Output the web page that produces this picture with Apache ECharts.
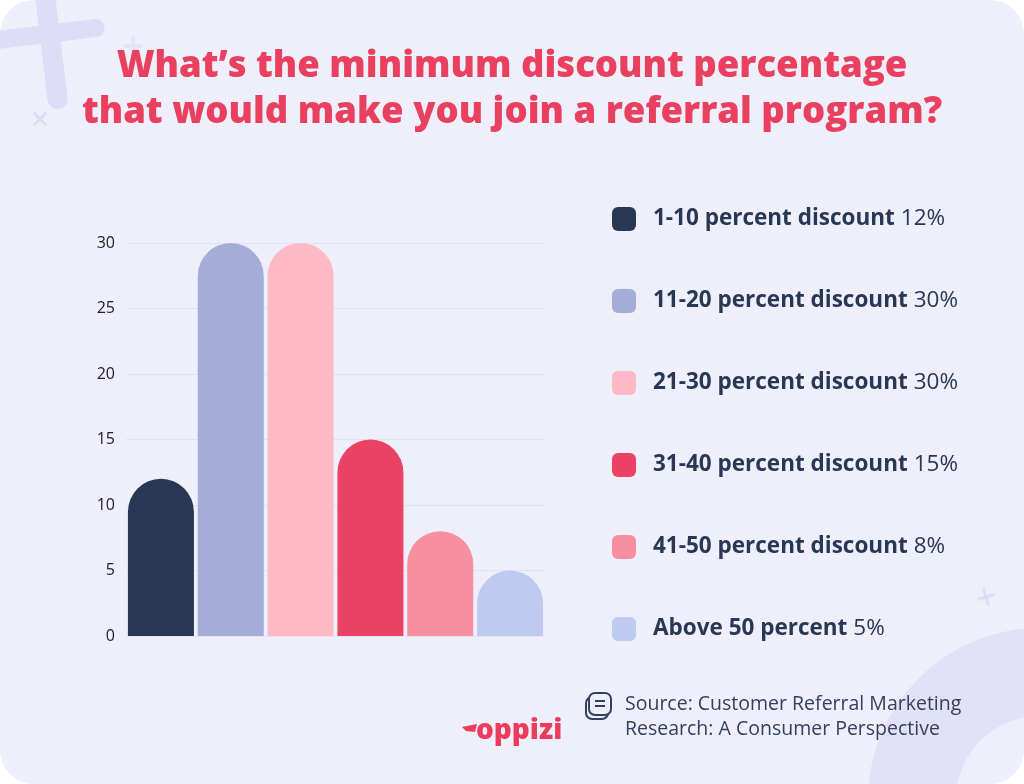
<!DOCTYPE html>
<html>
<head>
<meta charset="utf-8">
<script src="https://cdn.jsdelivr.net/npm/echarts@6/dist/echarts.min.js"></script>
<style>
  html, body { margin: 0; padding: 0; background: #ffffff; }
  #chart { width: 1024px; height: 784px; }
</style>
</head>
<body>
<div id="chart"></div>
<script>
// data
var categories = ['1-10 percent discount', '11-20 percent discount', '21-30 percent discount',
                  '31-40 percent discount', '41-50 percent discount', 'Above 50 percent'];
var values = [12, 30, 30, 15, 8, 5];
var colors = ['#283754', '#a4acd8', '#fdb9c5', '#ea4263', '#f78f9e', '#bfcaf0'];
var yTicks = [0, 5, 10, 15, 20, 25, 30];

var titleLines = ['What\u2019s the minimum discount percentage', 'that would make you join a referral program?'];
var sourceLines = ['Source: Customer Referral Marketing', 'Research: A Consumer Perspective'];

var FONT = '"Open Sans"';

var myChart = echarts.init(document.getElementById('chart'));

// one series per category so the legend lists each bar
var series = [];
for (var i = 0; i < categories.length; i++) {
  var d = [];
  for (var j = 0; j < categories.length; j++) d.push(j === i ? values[i] : '-');
  series.push({
    name: categories[i],
    type: 'bar',
    data: d,
    barWidth: 66,
    barGap: '-100%',
    itemStyle: { color: colors[i], borderRadius: [33, 33, 0, 0] },
    z: 3
  });
}

var deco = '#dedcf6';
var graphics = [
  // card
  { type: 'rect', shape: { x: 0, y: 0, width: 1024, height: 784, r: 34 }, style: { fill: '#efeefb' }, z: -10 },
  // big ring bottom-right
  { type: 'ring', shape: { cx: 1040, cy: 800, r: 172, r0: 84 }, style: { fill: '#e2e1f8' }, z: -9 },
  // big plus top-left
  { type: 'rect', shape: { x: -10, y: -60, width: 20, height: 150, r: 10 }, x: 48, y: 20, rotation: 0.12, style: { fill: deco }, z: -9 },
  { type: 'rect', shape: { x: -75, y: -9, width: 150, height: 18, r: 9 }, x: 30, y: 36, rotation: 0.12, style: { fill: deco }, z: -9 },
  // small marks
  { type: 'rect', shape: { x: -2, y: -10, width: 4, height: 20, r: 2 }, x: 133, y: 46, style: { fill: '#e4e3f8' }, z: -9 },
  { type: 'rect', shape: { x: -10, y: -2, width: 20, height: 4, r: 2 }, x: 133, y: 46, style: { fill: '#e4e3f8' }, z: -9 },
  { type: 'rect', shape: { x: -1.5, y: -9, width: 3, height: 18, r: 1.5 }, x: 40, y: 119, rotation: 0.785, style: { fill: deco }, z: -9 },
  { type: 'rect', shape: { x: -9, y: -1.5, width: 18, height: 3, r: 1.5 }, x: 40, y: 119, rotation: 0.785, style: { fill: deco }, z: -9 },
  { type: 'rect', shape: { x: -1.5, y: -9, width: 3, height: 18, r: 1.5 }, x: 986, y: 597, rotation: 0.3, style: { fill: deco }, z: -9 },
  { type: 'rect', shape: { x: -9, y: -1.5, width: 18, height: 3, r: 1.5 }, x: 986, y: 597, rotation: 0.3, style: { fill: deco }, z: -9 },
  // title
  { type: 'text', left: 'center', top: 48, style: { text: titleLines[0], fill: '#e8405e', font: '800 36.5px ' + FONT, textAlign: 'center' } },
  { type: 'text', left: 'center', top: 94, style: { text: titleLines[1], fill: '#e8405e', font: '800 36.5px ' + FONT, textAlign: 'center' } },
  // source icon
  { type: 'rect', shape: { x: 586, y: 697, width: 22, height: 22, r: 6 }, style: { fill: 'none', stroke: '#33405d', lineWidth: 2 } },
  { type: 'rect', shape: { x: 589, y: 693, width: 22, height: 22, r: 6 }, style: { fill: '#efeefb', stroke: '#33405d', lineWidth: 2 } },
  { type: 'line', shape: { x1: 595, y1: 701, x2: 605, y2: 701 }, style: { stroke: '#33405d', lineWidth: 2 } },
  { type: 'line', shape: { x1: 595, y1: 706, x2: 605, y2: 706 }, style: { stroke: '#33405d', lineWidth: 2 } },
  // source text
  { type: 'text', left: 625, top: 694, style: { text: sourceLines[0], fill: '#33405d', font: '400 19.5px ' + FONT } },
  { type: 'text', left: 625, top: 719, style: { text: sourceLines[1], fill: '#33405d', font: '400 19.5px ' + FONT } },
  // logo
  { type: 'polygon', shape: { points: [[462, 727], [477, 724], [475, 732], [466, 731]] }, style: { fill: '#ed3b5b' } },
  { type: 'text', left: 476, top: 717, style: { text: 'oppizi', fill: '#ed3b5b', font: '800 28px ' + FONT } }
];

myChart.setOption({
  backgroundColor: 'transparent',
  animation: false,
  grid: { left: 126, right: 479, top: 243, bottom: 148 },
  legend: {
    orient: 'vertical',
    left: 612,
    top: 207,
    padding: 0,
    itemWidth: 24,
    itemHeight: 24,
    itemGap: 58,
    icon: 'roundRect',
    selectedMode: false,
    data: categories,
    formatter: function (name) {
      var k = categories.indexOf(name);
      return '{b|' + name + '}{s| }{v|' + values[k] + '%}';
    },
    textStyle: {
      padding: [0, 0, 0, 12],
      rich: {
        b: { fontFamily: FONT, fontWeight: 700, fontSize: 22.5, color: '#283754' },
        s: { fontFamily: FONT, fontSize: 22.5, width: 6 },
        v: { fontFamily: FONT, fontWeight: 400, fontSize: 22.5, color: '#283754' }
      }
    }
  },
  xAxis: {
    type: 'category',
    data: categories,
    axisLine: { show: false },
    axisTick: { show: false },
    axisLabel: { show: false }
  },
  yAxis: {
    type: 'value',
    min: yTicks[0],
    max: yTicks[yTicks.length - 1],
    interval: 5,
    axisLine: { show: false },
    axisTick: { show: false },
    axisLabel: { color: '#222222', fontSize: 16, fontFamily: FONT, margin: 11 },
    splitLine: { lineStyle: { color: '#e2e1f2', width: 1 } }
  },
  graphic: graphics,
  series: series
});
</script>
</body>
</html>
